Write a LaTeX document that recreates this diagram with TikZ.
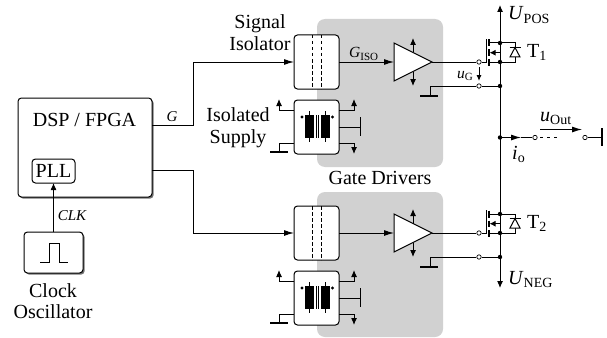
\documentclass[tikz,border=0pt]{standalone}
\usepackage{fontspec}
\setmainfont{Liberation Serif}
\usetikzlibrary{arrows.meta,shapes.geometric,shadows}
\definecolor{drvgray}{RGB}{209,209,209}
\newcommand{\bigsub}[2]{\textit{#1}\raisebox{-3pt}{\fontsize{14}{14}\selectfont #2}}
\newcommand{\smallsub}[2]{\textit{#1}\raisebox{-2.5pt}{\fontsize{11}{11}\selectfont #2}}
\tikzset{
  wire/.style={line width=1pt},
  sig/.style={wire,-{Latex[length=10pt,width=6pt]}},
  rail/.style={wire,-{Latex[length=7pt,width=6pt]}},
  block/.style={draw,wire,fill=white,rounded corners=3.5pt,inner sep=0pt,outer sep=0pt},
  shadowed/.style={block,drop shadow={shadow xshift=1.6pt,shadow yshift=-1.6pt,fill=black!55,opacity=1}},
  lbl/.style={font=\fontsize{20}{21.5}\selectfont,align=center,inner sep=0pt},
  sublbl/.style={font=\fontsize{15.5}{17}\selectfont,inner sep=0pt},
  dot/.style={circle,fill=black,inner sep=0pt,minimum size=4.4pt},
  opendot/.style={circle,draw,line width=0.7pt,fill=white,inner sep=0pt,minimum size=4.4pt},
  gndbar/.style={line width=1.6pt},
  amp/.style={draw,wire,fill=white,isosceles triangle,isosceles triangle stretches,
    inner sep=0pt,outer sep=0pt,minimum width=38pt,minimum height=38pt},
}
\begin{document}
\begin{tikzpicture}[x=1pt,y=-1pt]
  \useasboundingbox (0,0) rectangle (607,337);
  \fill[drvgray,rounded corners=8pt] (317,19) rectangle (443,167);
  \fill[drvgray,rounded corners=8pt] (317,192) rectangle (443,337);

  \node[shadowed,minimum width=134pt,minimum height=99pt] (dsp) at (85,147.5) {};
  \node[lbl] (dsplbl) at (84.5,120) {DSP / FPGA};
  \node[block,lbl,rounded corners=3.5pt,minimum width=43pt,minimum height=24pt] (pll) at (53.5,171) {PLL};
  \node[shadowed,minimum width=59pt,minimum height=41pt] (osc) at (53.5,252.5) {};
  \draw[wire] (40,262) -- (49,262) -- (49,243) -- (59,243) -- (59,262) -- (68,262);
  \node[lbl] (osclbl) at (53,301) {Clock\\Oscillator};
  \draw[sig,-{Latex[length=7pt,width=6pt]}] (osc.north) -- (pll.south);
  \node[sublbl,font=\fontsize{15}{17}\selectfont\itshape] (clklbl) at (72,216) {CLK};
  \node[sublbl,font=\fontsize{15}{17}\selectfont\itshape] (glbl) at (172,117) {G};

  \node[lbl] (isolbl) at (260,32.5) {Signal\\Isolator};
  \node[lbl] (suplbl) at (238,127.5) {Isolated\\Supply};
  \node[lbl] (drvlbl) at (380,178) {Gate Drivers};

  \foreach \n/\dy in {1/0,2/171} {
    \begin{scope}[shift={(0,\dy)}]
      \node[block,minimum width=45pt,minimum height=54pt] (iso\n) at (316.5,62) {};
      \draw[wire,dash pattern=on 3.5pt off 2.5pt] ([xshift=-4.5pt]iso\n.north) -- ([xshift=-4.5pt]iso\n.south);
      \draw[wire,dash pattern=on 3.5pt off 2.5pt] ([xshift=4.5pt]iso\n.north) -- ([xshift=4.5pt]iso\n.south);
      \node[block,minimum width=45pt,minimum height=54pt] (sup\n) at (316.5,127) {};
      \fill (305,115) rectangle (314,138);
      \fill (321,115) rectangle (329.5,138);
      \draw[line width=0.7pt] (309.5,111) -- (309.5,142) (325,111) -- (325,142);
      \draw[line width=0.7pt] (316.3,115) -- (316.3,138) (318.7,115) -- (318.7,138);
      \fill (302,117) circle (1.7pt) (332.5,117) circle (1.7pt);
      \draw[rail] ([yshift=17pt]sup\n.west) -- ++(-15,0) -- ++(0,-11);
      \draw[wire] ([yshift=-16pt]sup\n.west) -- ++(-15,0) -- ++(0,9);
      \draw[gndbar] (270,152) -- (288,152);
      \draw[rail] ([yshift=17pt]sup\n.east) -- ++(15,0) -- ++(0,-11);
      \draw[wire] (sup\n.east) -- ++(21,0);
      \draw[gndbar] (360.5,117) -- (360.5,136);
      \draw[rail] ([yshift=-16pt]sup\n.east) -- ++(15,0) -- ++(0,11);

      \node[amp,anchor=apex] (amp\n) at (432,62) {};
      \draw[sig] (iso\n.east) -- (394,62);
      \draw[rail] (413,52.5) -- (413,38);
      \draw[rail] (413,71.5) -- (413,86);

      \node[opendot] (gate\n) at (479,62) {};
      \node[opendot] (ret\n) at (479,86) {};
      \node[dot] (drain\n) at (500,43) {};
      \node[dot] (src\n) at (500,62) {};
      \node[dot] (kel\n) at (500,86) {};
      \draw[wire] (amp\n.apex) -- (gate\n);
      \draw[wire] (gate\n) -- (486,62) -- (486,39);
      \draw[gndbar] (489,39.5) -- (489,46.5) (489,49.5) -- (489,56) (489,59) -- (489,66);
      \draw[wire] (489,43) -- (drain\n);
      \draw[wire] (489,62) -- (src\n);
      \draw[wire] (drain\n) -- (src\n);
      \draw[wire] (500,52.7) -- (496,52.7);
      \draw[wire,-{Latex[length=6pt,width=6pt]}] (497,52.7) -- (489.5,52.7);
      \draw[wire] (drain\n) -- (515,43) -- (515,62) -- (src\n);
      \draw[wire,fill=white] (515,47.5) -- (510,57) -- (520,57) -- cycle;
      \draw[wire] (509.5,47.5) -- (520.5,47.5);
      \draw[wire] (ret\n) -- (kel\n);
      \draw[wire] (ret\n) -- (430,86) -- (430,96);
      \draw[gndbar] (420,96) -- (438,96);
    \end{scope}
  }
  \draw[sig] ([yshift=22.5pt]dsp.east) -- ++(41,0) |- (iso1.west);
  \draw[sig] ([yshift=-22.5pt]dsp.east) -- ++(41,0) |- (iso2.west);

  \node[sublbl,anchor=base west] (gisolbl) at (349,58) {\smallsub{G}{ISO}};
  \node[sublbl,anchor=base west] (ugf) at (457,78) {\smallsub{u}{G}};
  \draw[wire,-{Latex[length=6pt,width=5pt]}] (479,67) -- (479,81);

  \coordinate (vpos) at (500,5);
  \coordinate (vneg) at (500,288);
  \node[dot] (out) at (500,137.5) {};
  \draw[rail] (drain1) -- (vpos);
  \draw[wire] (src1) -- (drain2);
  \draw[rail] (src2) -- (vneg);
  \node[lbl,anchor=base west] (uposlbl) at (508,20) {\bigsub{U}{POS}};
  \node[lbl,anchor=base west] (uneglbl) at (508,284) {\bigsub{U}{NEG}};
  \node[lbl,anchor=base west] (t1lbl) at (527,57) {T\raisebox{-3pt}{\fontsize{14}{14}\selectfont 1}};
  \node[lbl,anchor=base west] (t2lbl) at (527,228) {T\raisebox{-3pt}{\fontsize{14}{14}\selectfont 2}};

  \node[opendot] (outa) at (535,137.5) {};
  \node[opendot] (outb) at (585,137.5) {};
  \coordinate (outgnd) at (602,137.5);
  \coordinate (outmid) at (521,137.5);
  \coordinate (dasha) at (540,137.5);
  \coordinate (dashb) at (559,137.5);
  \draw[sig] (out) -- (outmid);
  \draw[wire] (outmid) -- (outa);
  \draw[wire,dash pattern=on 3pt off 4pt] (dasha) -- (dashb);
  \draw[wire] (outb) -- (outgnd);
  \draw[gndbar] (602,128) -- (602,146);
  \coordinate (uouta) at (540,129.5);
  \coordinate (uoutb) at (582,129.5);
  \draw[sig] (uouta) -- (uoutb);
  \node[lbl,anchor=base west] (uoutlbl) at (540,121) {\bigsub{u}{Out}};
  \node[lbl,anchor=base west] (iolbl) at (512,159) {\bigsub{i}{o}};
\end{tikzpicture}
\end{document}
